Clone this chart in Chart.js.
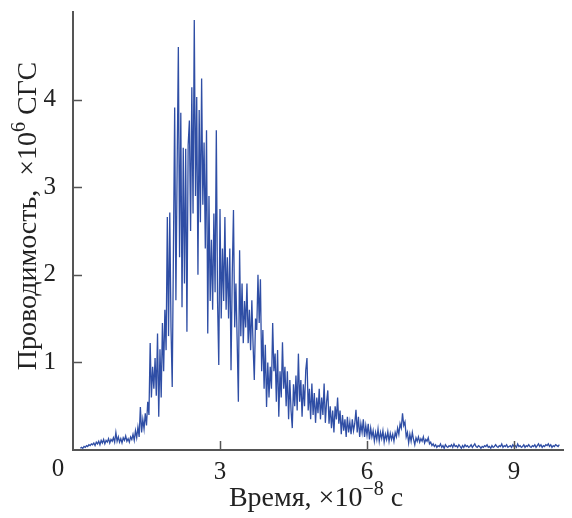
<!DOCTYPE html>
<html>
<head>
<meta charset="utf-8">
<script src="https://cdn.jsdelivr.net/npm/chart.js@4"></script>
<style>
  html, body { margin: 0; padding: 0; background: #fff; }
  #wrap { width: 572px; height: 518px; }
</style>
</head>
<body>
<div id="wrap"><canvas id="conductChart" width="572" height="518"></canvas></div>
<script>
// time axis of the record, x10^-8 s
const firstSample = 0.15;
const sampleStep  = 0.025;

// conductance, x10^6 CGS
const riseValues = [
  0.02, 0.03, 0.02, 0.04, 0.03, 0.05, 0.04, 0.06, 0.05, 0.07,
  0.06, 0.08, 0.05, 0.09, 0.07, 0.10, 0.06, 0.11, 0.08, 0.12,
  0.07, 0.11, 0.09, 0.13, 0.08, 0.12, 0.10, 0.14, 0.09, 0.20,
  0.10, 0.15, 0.09, 0.13, 0.08, 0.14, 0.11, 0.16, 0.10, 0.13,
  0.09, 0.15, 0.12, 0.18, 0.11, 0.22, 0.14, 0.26, 0.15,
  0.49, 0.20, 0.35, 0.24, 0.42, 0.28, 0.55, 0.40, 1.22, 0.60,
  0.95, 0.70, 1.05, 0.62, 1.33, 0.38, 1.15, 0.60, 1.45, 0.90,
  1.60, 1.14, 2.66, 1.30
];
const peakValues = [
  2.71, 1.40, 0.72, 2.30, 3.91, 1.71, 3.20, 4.60, 2.20, 3.85,
  1.63, 3.45, 1.90, 3.44, 1.35, 3.48,
  3.76, 2.50, 4.14, 2.70, 4.91, 2.90, 4.03, 2.00, 3.88, 2.60,
  4.24, 2.80, 3.51, 2.30, 3.65, 1.33, 2.90, 1.70, 2.40, 1.60,
  2.70, 1.80, 3.65, 1.70, 0.97, 2.75, 1.50, 2.30, 1.70, 2.66,
  1.60, 2.20, 1.50, 2.30, 0.91, 2.00, 2.74, 1.40, 1.90, 1.25,
  0.55, 2.28, 1.30, 1.90, 1.22, 1.70
];
const decayValues = [
  1.40, 1.90, 1.22, 1.60, 1.14, 1.71, 1.20, 0.80, 1.50, 1.37,
  2.00, 1.45, 1.95, 0.90, 1.37, 0.70, 1.20, 0.49, 1.00, 0.60,
  0.95, 0.70, 1.45, 0.90, 1.10, 0.55, 1.14, 0.38, 0.90, 0.60,
  1.23, 0.70, 0.95, 0.50, 0.90, 0.35, 0.80, 0.45, 0.25, 0.75,
  0.50, 0.85, 0.45, 1.10, 0.55, 0.80, 0.38, 0.75, 0.50, 0.91,
  1.05, 0.45, 0.70, 0.35, 0.76, 0.40, 0.65, 0.31, 0.60, 0.42
];
const tailValues = [
  0.70, 0.35, 0.60, 0.40, 0.76, 0.31, 0.55, 0.68, 0.30, 0.50,
  0.25, 0.45, 0.20, 0.50, 0.35, 0.60, 0.30, 0.45, 0.18, 0.40,
  0.22, 0.35, 0.15, 0.38, 0.20, 0.32, 0.18, 0.35, 0.22, 0.30,
  0.46, 0.20, 0.38, 0.15, 0.30, 0.20, 0.35, 0.15, 0.28, 0.17,
  0.30, 0.12, 0.25, 0.15, 0.22, 0.10, 0.20, 0.12, 0.24, 0.10,
  0.20, 0.13, 0.22, 0.09, 0.18, 0.12, 0.21, 0.10, 0.19, 0.12,
  0.18, 0.10, 0.20, 0.15, 0.25, 0.18, 0.30, 0.25, 0.42, 0.28,
  0.32, 0.15, 0.20, 0.08, 0.18, 0.10, 0.20, 0.12, 0.06, 0.14,
  0.10, 0.15, 0.09, 0.13, 0.10, 0.15, 0.08, 0.12, 0.10, 0.14,
  0.07, 0.09, 0.05, 0.07
];
const baselineValues = [
  0.04, 0.06, 0.03, 0.05, 0.04, 0.07, 0.03, 0.05, 0.02, 0.06,
  0.04, 0.03, 0.05, 0.04, 0.06, 0.03, 0.07, 0.04, 0.05, 0.03,
  0.06, 0.04, 0.02, 0.05, 0.03, 0.06, 0.04, 0.05, 0.03, 0.04,
  0.06, 0.03, 0.05, 0.07, 0.04, 0.03, 0.05, 0.04, 0.02, 0.04,
  0.03, 0.05, 0.04, 0.06, 0.03, 0.04, 0.02, 0.05, 0.03, 0.04,
  0.06, 0.04, 0.03, 0.05, 0.04, 0.07, 0.03, 0.05, 0.04, 0.06,
  0.03, 0.04, 0.05, 0.03, 0.06, 0.04, 0.05, 0.03, 0.07, 0.04,
  0.05, 0.03, 0.04, 0.06, 0.03, 0.05, 0.04, 0.06, 0.04, 0.03,
  0.05, 0.04, 0.06, 0.03, 0.05, 0.07, 0.04, 0.06, 0.03, 0.05,
  0.04, 0.06, 0.05, 0.07, 0.04, 0.06, 0.03, 0.05, 0.04, 0.06,
  0.05, 0.04, 0.06
];

const xTicks = [0, 3, 6, 9];
const yTicks = [1, 2, 3, 4];
// axis titles: [text, isSuperscript]
const xTitleParts = [['Время, ×10', false], ['−8', true], [' с', false]];
const yTitleParts = [['Проводимость,  ×10', false], ['6', true], [' СГС', false]];

const serif = "'Liberation Serif', 'Times New Roman', serif";
const inkColor  = '#222';
const axisColor = '#555';
const lineColor = '#2f4ea5';
const labelSize = 25;
const titleSize = 28;

const conductance = [...riseValues, ...peakValues, ...decayValues, ...tailValues, ...baselineValues];
const points = conductance.map((v, i) => ({ x: firstSample + i * sampleStep, y: v }));

function drawRich(ctx, parts, size) {
  const supSize = Math.round(size * 0.72);
  const widths = parts.map(([t, sup]) => {
    ctx.font = (sup ? supSize : size) + 'px ' + serif;
    return ctx.measureText(t).width;
  });
  let cx = -widths.reduce((a, b) => a + b, 0) / 2;
  parts.forEach(([t, sup], i) => {
    ctx.font = (sup ? supSize : size) + 'px ' + serif;
    ctx.fillText(t, cx, sup ? -size * 0.38 : 0);
    cx += widths[i];
  });
}

// ticks point into the plot, the shared "0" sits left of the corner,
// titles carry real superscripts
const axisDecor = {
  id: 'axisDecor',
  afterDraw(chart) {
    const { ctx, scales: { x, y } } = chart;
    ctx.save();
    ctx.strokeStyle = axisColor;
    ctx.lineWidth = 1.5;
    ctx.beginPath();
    xTicks.forEach(v => {
      if (v === 0) return;
      const px = Math.round(x.getPixelForValue(v)) + 0.5;
      ctx.moveTo(px, y.bottom);
      ctx.lineTo(px, y.bottom - 9);
    });
    yTicks.forEach(v => {
      const py = Math.round(y.getPixelForValue(v)) + 0.5;
      ctx.moveTo(x.left, py);
      ctx.lineTo(x.left + 9, py);
    });
    ctx.stroke();

    ctx.fillStyle = inkColor;
    ctx.font = labelSize + 'px ' + serif;
    ctx.textAlign = 'center';
    ctx.textBaseline = 'top';
    ctx.fillText('0', x.getPixelForValue(0) - 15, y.bottom + 7);

    ctx.textAlign = 'left';
    ctx.textBaseline = 'alphabetic';
    ctx.save();
    ctx.translate((x.left + x.right) / 2 - 2, 506);
    drawRich(ctx, xTitleParts, titleSize);
    ctx.restore();

    ctx.save();
    ctx.translate(36, 216);
    ctx.rotate(-Math.PI / 2);
    drawRich(ctx, yTitleParts, titleSize);
    ctx.restore();
    ctx.restore();
  }
};

new Chart(document.getElementById('conductChart'), {
  type: 'scatter',
  data: {
    datasets: [{
      data: points,
      showLine: true,
      borderColor: lineColor,
      borderWidth: 1.3,
      pointRadius: 0,
      fill: false
    }]
  },
  options: {
    responsive: false,
    animation: false,
    layout: { padding: { left: 0, top: 12, right: 9, bottom: 0 } },
    plugins: {
      legend: { display: false },
      tooltip: { enabled: false }
    },
    scales: {
      x: {
        type: 'linear',
        min: 0,
        max: 10,
        afterBuildTicks: s => { s.ticks = xTicks.map(v => ({ value: v })); },
        afterFit: s => { s.height = 68; s.paddingLeft = 0; s.paddingRight = 0; },
        grid: { display: false, drawTicks: false },
        border: { display: true, color: axisColor, width: 2 },
        ticks: {
          padding: 7,
          color: inkColor,
          font: { family: serif, size: labelSize },
          callback: v => (v === 0 ? '' : v)
        }
      },
      y: {
        type: 'linear',
        min: 0,
        max: 5,
        afterBuildTicks: s => { s.ticks = yTicks.map(v => ({ value: v })); },
        afterFit: s => { s.width = 73; s.paddingTop = 0; s.paddingBottom = 0; },
        grid: { display: false, drawTicks: false },
        border: { display: true, color: axisColor, width: 2 },
        ticks: {
          padding: 17,
          color: inkColor,
          font: { family: serif, size: labelSize }
        }
      }
    }
  },
  plugins: [axisDecor]
});
</script>
</body>
</html>
